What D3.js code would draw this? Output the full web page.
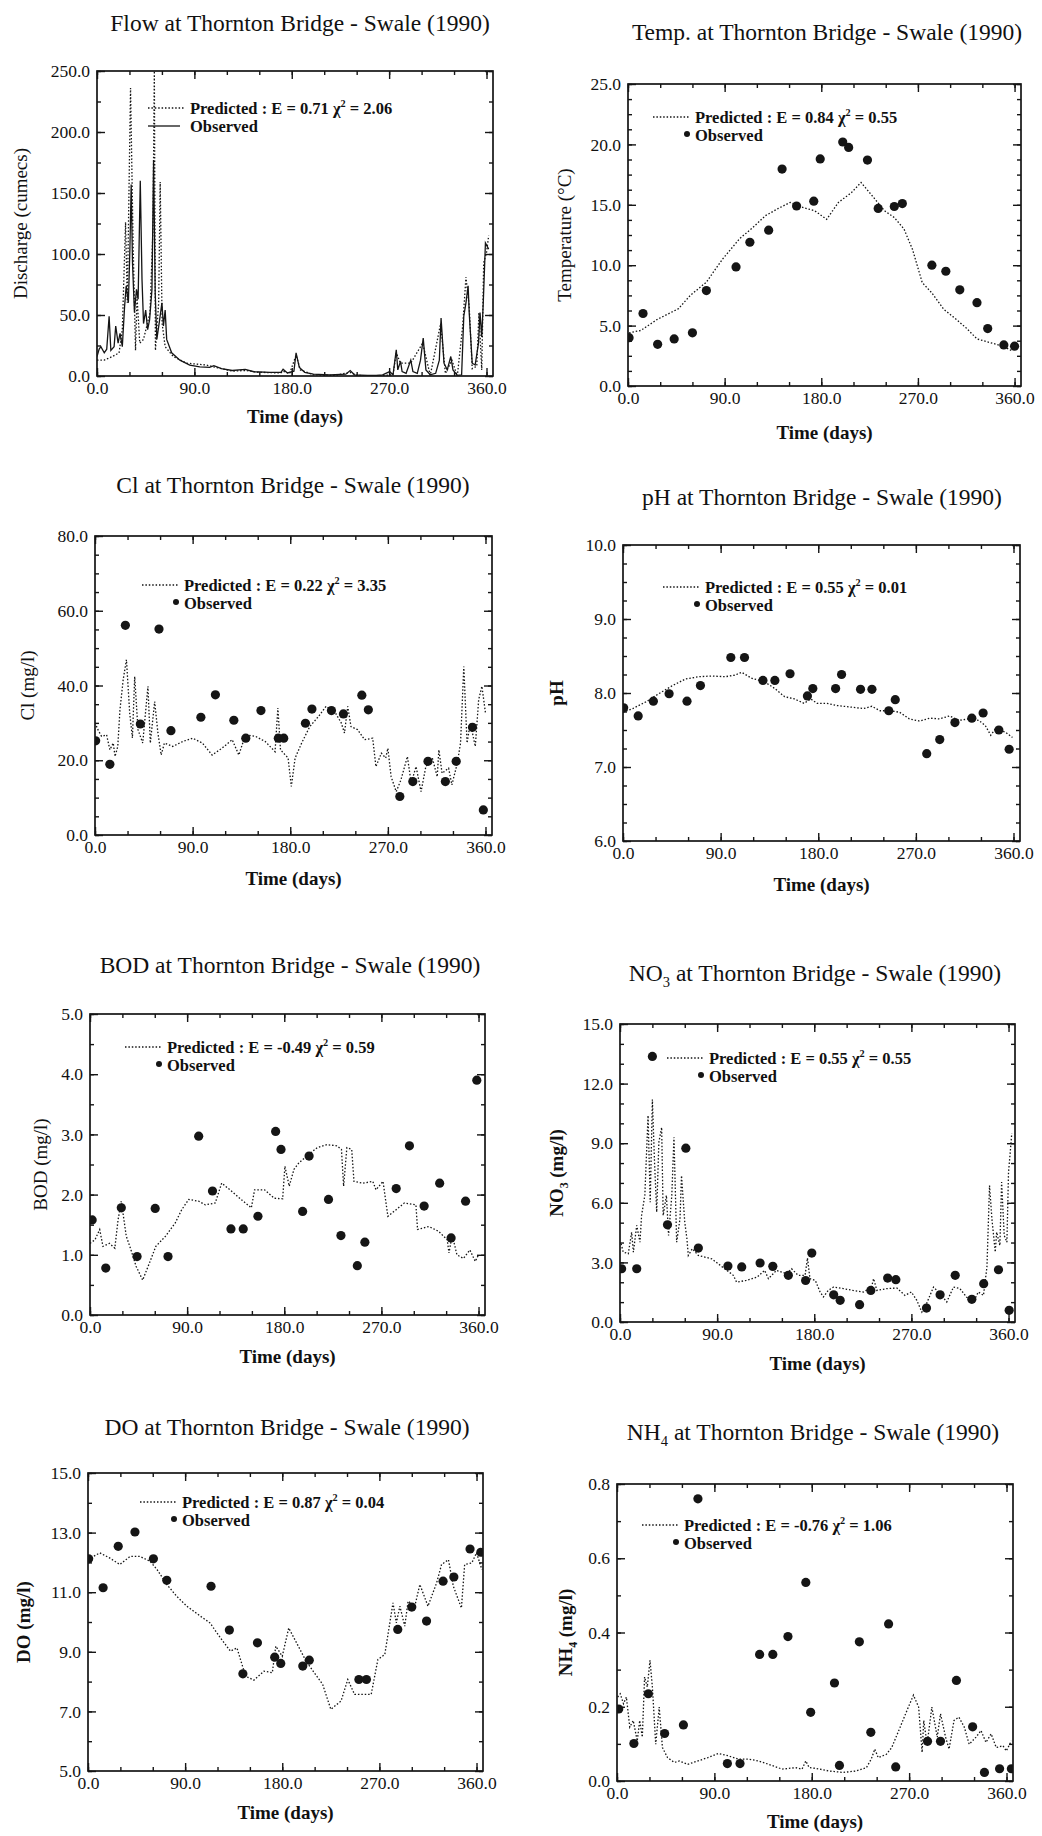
<!DOCTYPE html>
<html><head><meta charset="utf-8">
<script src="https://cdn.jsdelivr.net/npm/d3@7"></script>
<style>
body{margin:0;background:#fff;}
svg text{font-family:"Liberation Serif","Times New Roman",serif;fill:#111;}
</style></head><body>
<svg id="chart" width="1042" height="1836"></svg>
<script>
// ---------------- DATA ----------------
const xTicks = [0, 90, 180, 270, 360];
const xMinorTicks = [0,30,60,90,120,150,180,210,240,270,300,330,360];
const xDomain = [0, 366];

const flowTicks = [0, 50, 100, 150, 200, 250];
const tempTicks = [0, 5, 10, 15, 20, 25];
const clTicks = [0, 20, 40, 60, 80];
const phTicks = [6, 7, 8, 9, 10];
const bodTicks = [0, 1, 2, 3, 4, 5];
const no3Ticks = [0, 3, 6, 9, 12, 15];
const doTicks = [5, 7, 9, 11, 13, 15];
const nh4Ticks = [0, 0.2, 0.4, 0.6, 0.8];

const flowObserved = [[0,16],[2,22],[3.6,24],[6.7,19],[9,22],[11.2,49],[12.8,21],[15.8,24],[17.3,41],[19.5,27],[21.3,35],[23.4,24],[25.5,57],[27,74],[29,60],[30.4,104],[31.6,157],[32.8,93],[34.6,52],[36.5,71],[38,63],[40,160],[41.6,79],[43,43],[45,54],[46.8,38],[48.6,46],[50.8,71],[52.3,177],[53.8,68],[55.3,30],[57.4,43],[60,60],[61.4,41],[63,54],[64.4,30],[69,19],[76.6,13],[85.7,9],[95,7.5],[104,7],[108,8.5],[115,6],[125,4.5],[137,5.5],[145,3.5],[160,3],[170,3],[172,5.5],[176,2.5],[182,4],[184,19],[187,7],[192,3],[200,1.5],[215,1],[230,1.5],[234,4.5],[238,1],[250,0.5],[258,0.5],[264,1],[270.5,3.6],[273.6,1],[276.6,21.5],[278,5],[280.5,12],[282,3.6],[285.7,2.2],[290,13],[292,3.6],[296,2.2],[299,13],[301.5,31],[304,5],[308,1],[313,2.2],[316.4,13],[318,47.6],[320.7,10.5],[323.7,5],[327,16],[329,5],[333,0.5],[337,1],[339,49],[341,60],[343,74],[344,52],[346.8,10.5],[349.5,9],[352.6,27],[354,52],[355.6,32],[357,60],[359,109],[362,104]];
const flowPredicted = [[0,13],[6.7,13],[14.3,16],[20.4,19],[23.4,38],[26.4,126],[28,60],[31,236],[33.4,107],[35.6,21],[37,65],[39.5,27],[43,30],[46,41],[49,52],[51.7,120],[53,250],[54,21],[57,60],[58.4,159],[60.2,43],[63,24],[70.5,16],[82.7,10.5],[101,9],[110,7],[125,4],[137,4.5],[150,3],[170,2.5],[172,4],[178,2],[184,17],[188,5],[200,1],[220,0.5],[234,3],[240,0.5],[258,0],[273.6,1],[276.6,19],[280.5,10.5],[290,10.5],[301,27],[308,0.5],[317.6,43],[322,2],[328,13],[333,0],[338,41],[341,81],[344,57],[346.8,6],[351,8],[353,52],[355.6,5],[357.4,93],[360,101],[362,115]];

const tempObserved = [[1,4.0],[14,6.0],[27.6,3.45],[43,3.9],[60,4.4],[73,7.9],[100.6,9.86],[113.5,11.9],[131,12.9],[143.5,17.96],[157,14.9],[173,15.3],[179,18.8],[200,20.2],[205.5,19.75],[223,18.7],[233,14.7],[248,14.86],[255.5,15.1],[283,10.0],[296,9.5],[309,7.96],[325,6.9],[335,4.75],[350,3.4],[360,3.3]];
const tempPredicted = [[1,4.4],[12,4.6],[27,5.5],[47,6.4],[58,7.5],[73,8.6],[88,10.5],[104,12.2],[116,13.1],[128,14.1],[140,14.7],[151,15.2],[162,14.8],[174,14.5],[185,13.8],[196,15.2],[208,16.0],[217,16.85],[226,15.9],[239,14.5],[248,13.95],[257,13.0],[265,11.3],[274,8.56],[283,7.7],[294,6.35],[306,5.5],[315,4.8],[325,3.9],[337,3.6],[349,3.3],[358,2.9]];

const clObserved = [[0.6,25.2],[13.7,18.9],[28,56.1],[41.8,29.7],[59,55.1],[70,27.9],[97.6,31.5],[111,37.5],[128,30.7],[139,25.9],[153,33.3],[169,25.9],[174,25.9],[194,29.9],[200,33.7],[218,33.3],[229,32.4],[246,37.4],[252,33.5],[281,10.3],[293,14.3],[307,19.7],[323,14.3],[333,19.7],[348,28.8],[358,6.7]];
const clPredicted = [[0,30],[3,28],[6,26.4],[10.7,26.8],[13.7,22.8],[16.8,24.6],[18.5,21],[21,23.7],[23,33.5],[26,41.6],[29,46.9],[32,32.6],[34.5,26],[36.6,42.4],[39.6,28.2],[44,24.6],[48.8,39.8],[51,24.6],[55,35.7],[58,27.3],[61,21.4],[64,24.6],[71.6,23.7],[80.8,25],[90,25.9],[99,24.6],[108,21.4],[117,23.2],[126.5,25.5],[132.6,21.4],[138.7,26.8],[148,26.4],[157,25],[166,22.3],[168.6,34],[171,22.8],[178,20.6],[181,13],[184.5,20.6],[190.5,24.6],[198,29],[206,31.7],[213,34.4],[221,33],[227,30],[230,27.3],[233,34.4],[236,29],[242,28.2],[248.5,25.5],[256,25.9],[259,18.3],[264,21.9],[268,20.6],[270,23.2],[273,15.6],[277.7,11.6],[282,14.7],[288,21],[291.5,13.9],[296,18.3],[300.6,11.6],[305,18.3],[311,20.6],[315.5,15.6],[317,22.8],[320,16.5],[326,17.9],[329,13.4],[334,19.2],[337,24.6],[340,45.1],[343,24.6],[346,30],[350.6,23.7],[353.7,36.2],[356.7,39.8],[360,32.6]];

const phObserved = [[0.6,7.80],[14,7.69],[28,7.89],[42.5,7.99],[59,7.89],[71.4,8.10],[99.4,8.48],[112,8.48],[129,8.17],[140,8.17],[154,8.26],[170,7.96],[175,8.06],[196,8.06],[201.5,8.25],[219,8.05],[229.5,8.05],[245,7.76],[251,7.91],[280,7.18],[292,7.37],[306,7.60],[321.6,7.66],[332,7.73],[346.5,7.50],[356,7.24]];
const phPredicted = [[0,7.74],[9,7.79],[21,7.88],[33,7.99],[45.6,8.10],[57.7,8.19],[70,8.22],[82,8.23],[94,8.22],[103,8.24],[109.4,8.28],[118.5,8.20],[130.7,8.15],[140,8.06],[149,7.95],[158,7.92],[167,7.86],[173,7.92],[179,7.86],[188,7.86],[197.6,7.83],[209.7,7.81],[221.9,7.79],[229.5,7.82],[237,7.76],[246,7.76],[255,7.74],[264,7.65],[273.6,7.62],[282.7,7.66],[291.8,7.65],[301,7.69],[310,7.63],[319,7.65],[328,7.63],[334,7.56],[339,7.43],[343.5,7.52],[352.6,7.47],[359,7.40]];

const bodObserved = [[2,1.58],[14.6,0.78],[29,1.78],[43.6,0.97],[60.4,1.77],[72.3,0.97],[100.7,2.97],[113.5,2.06],[130.6,1.43],[142,1.43],[155.6,1.64],[172,3.05],[177,2.75],[197,1.72],[203,2.64],[221,1.92],[232.5,1.32],[247.7,0.82],[254.7,1.21],[283.7,2.10],[296,2.81],[309.6,1.81],[324,2.19],[334.6,1.28],[348,1.89],[358.4,3.90]];
const bodPredicted = [[0,1.19],[4.6,1.25],[9,1.42],[12,1.14],[18,1.19],[23,1.11],[26,1.58],[29,1.89],[33.6,1.31],[38,1.08],[42.7,0.81],[48.8,0.58],[55,0.86],[61,1.14],[70,1.31],[79,1.53],[85,1.75],[91.5,1.92],[100.7,1.89],[106.8,1.83],[116,1.86],[122,2.19],[131,2.06],[140,1.92],[149.5,1.78],[152.5,2.08],[161.7,2.08],[170.8,1.94],[178.5,1.93],[180.6,2.47],[184.6,2.14],[189,2.42],[193.7,2.53],[201,2.64],[210.5,2.78],[219.6,2.83],[228.8,2.81],[233,2.75],[235,2.14],[238,2.78],[242.5,2.75],[244.6,2.22],[253,2.19],[262,2.22],[265,2.08],[271.5,2.22],[276,1.64],[283.7,1.75],[291.3,1.86],[302,1.83],[303.5,1.42],[314,1.47],[323,1.39],[331,1.25],[332.6,1.03],[335.6,1.33],[340,1.0],[346,0.94],[352,1.08],[357,0.89],[360,1.0]];

const no3Observed = [[1.5,2.68],[15.5,2.68],[30,13.37],[44,4.89],[61,8.75],[72.6,3.72],[100,2.82],[112.8,2.77],[129.8,2.97],[141.6,2.80],[156,2.35],[172,2.09],[177.7,3.47],[198,1.37],[204,1.09],[222,0.87],[232.4,1.59],[248,2.21],[255.6,2.13],[284,0.70],[296.6,1.37],[310.6,2.35],[326,1.14],[337,1.93],[350.7,2.63],[360.6,0.59]];
const no3Predicted = [[1,3.94],[3,3.52],[7.7,3.44],[10.8,4.52],[12.4,3.52],[15.5,4.86],[18.5,4.02],[20,5.36],[23,6.37],[26,10.4],[28,6.03],[30,11.2],[32,8.04],[34,5.53],[36,9.05],[38.6,9.8],[40,5.36],[43,6.37],[45,4.36],[48,6.37],[50,9.3],[52.5,4.02],[55.6,5.2],[57,7.37],[60,5.03],[62,4.19],[63.3,3.35],[67,3.69],[72.6,3.35],[85,3.18],[97,2.68],[105,2.35],[108,2.01],[117,2.09],[127,2.26],[134,2.60],[137.5,2.18],[145,2.60],[154.5,2.43],[159,2.68],[165,2.35],[171.5,2.35],[173.7,3.22],[176,2.18],[181,2.09],[185.4,1.51],[188.5,1.26],[193,1.59],[198,1.76],[207,1.68],[216,1.59],[225.6,1.51],[233,1.76],[235,2.18],[238,1.59],[247,1.68],[256.5,1.71],[264,1.34],[270,1.51],[275,1.09],[279.7,0.50],[284,0.92],[290.5,1.76],[296.6,1.42],[302.8,1.01],[309,1.76],[315,1.68],[321,1.26],[327.5,1.01],[332,1.51],[336.8,1.34],[340,2.77],[342.4,6.87],[344.6,5.2],[347.7,3.52],[349,4.52],[352,3.85],[353.6,7.04],[356,4.36],[358.5,4.02],[360,7.54],[361.6,8.55],[363,9.5]];

const doObserved = [[0.6,12.12],[14,11.15],[28,12.54],[43.5,13.02],[60.6,12.12],[73,11.40],[114,11.20],[131,9.73],[143.5,8.26],[157,9.30],[173,8.82],[178.6,8.61],[199,8.52],[205,8.72],[251,8.07],[258,8.07],[287,9.75],[300,10.50],[313.7,10.03],[329,11.37],[339,11.51],[354,12.45],[364,12.34]];
const doPredicted = [[0,12.1],[11,12.32],[20,12.15],[29.5,11.93],[39,12.2],[48,12.2],[57.5,12.04],[64,11.76],[73,11.26],[82,10.87],[91.6,10.53],[104,10.2],[113,9.97],[122.7,9.47],[132,9.02],[138,9.13],[146,8.18],[153.7,8.05],[163,8.35],[170.8,8.30],[174,9.19],[180,8.85],[186,9.80],[194,9.25],[202,8.69],[209.6,8.30],[217.4,7.91],[225,7.07],[234.5,7.35],[240.7,8.07],[247,7.57],[256,7.57],[262.4,7.57],[268.6,8.74],[275,8.91],[282.6,10.64],[285.7,9.97],[289,10.53],[293.5,9.86],[296.6,10.70],[302.8,10.53],[307.5,11.26],[315,10.53],[323,11.31],[327.6,11.93],[334,12.09],[338.5,11.2],[346,10.47],[349,11.93],[355.6,11.98],[360,12.32],[365,11.76]];

const nh4Observed = [[1.6,0.194],[15.6,0.101],[29,0.235],[44,0.128],[61.4,0.151],[74.8,0.760],[102,0.047],[113.7,0.047],[131.8,0.341],[144,0.341],[158,0.389],[174.5,0.535],[179,0.185],[201,0.264],[205.6,0.042],[224,0.375],[234.6,0.131],[251,0.423],[257.6,0.038],[287,0.107],[299,0.107],[313.7,0.271],[328.7,0.146],[339.6,0.023],[353.6,0.033],[364.5,0.033]];
const nh4Predicted = [[0.6,0.226],[3,0.235],[6,0.208],[8.7,0.226],[11.8,0.145],[15,0.163],[18.7,0.108],[21,0.163],[23.4,0.118],[25.5,0.280],[28,0.253],[30.5,0.325],[32.7,0.253],[35.8,0.099],[39,0.199],[42,0.090],[46.7,0.063],[53,0.050],[57.6,0.054],[65.4,0.045],[74.8,0.054],[84,0.063],[93.5,0.074],[102.8,0.068],[112,0.059],[121.5,0.059],[130.8,0.054],[140,0.045],[152.6,0.032],[165,0.036],[171,0.032],[174.5,0.054],[177.6,0.036],[183.8,0.034],[196,0.027],[208.7,0.023],[221,0.027],[230.5,0.036],[235,0.059],[238.3,0.086],[241.4,0.063],[249,0.072],[253.9,0.090],[261.7,0.145],[268,0.190],[274,0.231],[278.8,0.199],[282,0.077],[283.5,0.163],[286.6,0.099],[291,0.199],[296,0.118],[299,0.181],[303.7,0.118],[306.9,0.086],[311.5,0.163],[316,0.172],[321,0.145],[325.5,0.099],[331.8,0.118],[336.4,0.136],[341,0.104],[345.8,0.127],[350.5,0.090],[356.7,0.095],[359.8,0.081],[364.5,0.108]];

// ---------------- LAYOUT ----------------
const panels = [
  {title:[["Flow at Thornton Bridge - Swale (1990)",""]], tx:300, ty:23,
   ylabel:[["Discharge (cumecs)",""]], ylDx:-76, ylW:"normal",
   f:[97,71,493,376], yTicks:flowTicks, yMinor:25, obs:flowObserved, pred:flowPredicted, obsLine:true,
   stat:["0.71","2.06"], lx:51, ly:37, timeDy:41},
  {title:[["Temp. at Thornton Bridge - Swale (1990)",""]], tx:827, ty:32,
   ylabel:[["Temperature (°C)",""]], ylDx:-63, ylW:"normal",
   f:[628,84,1021,386], yTicks:tempTicks, yMinor:1.25, obs:tempObserved, pred:tempPredicted,
   stat:["0.84","0.55"], lx:25, ly:33, timeDy:47},
  {title:[["Cl at Thornton Bridge - Swale (1990)",""]], tx:293, ty:485,
   ylabel:[["Cl (mg/l)",""]], ylDx:-67, ylW:"normal",
   f:[95,536,492,835], yTicks:clTicks, yMinor:5, obs:clObserved, pred:clPredicted,
   stat:["0.22","3.35"], lx:47, ly:49, timeDy:44},
  {title:[["pH at Thornton Bridge - Swale (1990)",""]], tx:822, ty:497,
   ylabel:[["pH",""]], ylDx:-66, ylW:"bold",
   f:[623,545,1020,841], yTicks:phTicks, yMinor:0.25, obs:phObserved, pred:phPredicted,
   stat:["0.55","0.01"], lx:40, ly:42, timeDy:44},
  {title:[["BOD at Thornton Bridge - Swale (1990)",""]], tx:290, ty:965,
   ylabel:[["BOD (mg/l)",""]], ylDx:-49, ylW:"normal",
   f:[90,1014,485,1315], yTicks:bodTicks, yMinor:0.5, obs:bodObserved, pred:bodPredicted,
   stat:["-0.49","0.59"], lx:35, ly:33, timeDy:42},
  {title:[["NO",""],["3","sub"],[" at Thornton Bridge - Swale (1990)",""]], tx:815, ty:973,
   ylabel:[["NO",""],["3","sub"],[" (mg/l)",""]], ylDx:-63, ylW:"bold",
   f:[620,1024,1015,1322], yTicks:no3Ticks, yMinor:1, obs:no3Observed, pred:no3Predicted,
   stat:["0.55","0.55"], lx:47, ly:34, timeDy:42},
  {title:[["DO at Thornton Bridge - Swale (1990)",""]], tx:287, ty:1427,
   ylabel:[["DO (mg/l)",""]], ylDx:-64, ylW:"bold",
   f:[88,1473,483,1771], yTicks:doTicks, yMinor:1, obs:doObserved, pred:doPredicted,
   stat:["0.87","0.04"], lx:52, ly:29, timeDy:42},
  {title:[["NH",""],["4","sub"],[" at Thornton Bridge - Swale (1990)",""]], tx:813, ty:1432,
   ylabel:[["NH",""],["4","sub"],[" (mg/l)",""]], ylDx:-51, ylW:"bold",
   f:[617,1484,1013,1781], yTicks:nh4Ticks, yMinor:0.1, obs:nh4Observed, pred:nh4Predicted,
   stat:["-0.76","1.06"], lx:25, ly:41, timeDy:41}
];

const svg = d3.select("#chart");
const INK = "#151515";
const DOTS = "1.5,1.9";
const TITLE_SIZE = 23.5, TICK_SIZE = 17.5, LABEL_SIZE = 19, LEGEND_SIZE = 16.5;

function rich(sel, parts, size) {
  let shift = 0;
  parts.forEach(([t, mode]) => {
    const ts = sel.append("tspan").text(t);
    if (mode === "sub") { ts.attr("dy", size * 0.28).attr("font-size", size * 0.62); shift = size * 0.28; }
    else if (mode === "sup") { ts.attr("dy", -size * 0.4).attr("font-size", size * 0.62); shift = -size * 0.4; }
    else { ts.attr("dy", -shift); shift = 0; }
  });
}

function drawPanel(p) {
  const [x0, y0, x1, y1] = p.f;
  const g = svg.append("g");
  const yMin = p.yTicks[0], yMax = p.yTicks[p.yTicks.length - 1];
  const x = d3.scaleLinear().domain(xDomain).range([x0, x1]);
  const y = d3.scaleLinear().domain([yMin, yMax]).range([y1, y0]);
  const yMinorVals = d3.range(yMin, yMax + 1e-9, p.yMinor);
  const fmt = d3.format(".1f");

  // Title
  const tt = g.append("text").attr("x", p.tx).attr("y", p.ty + 7.5)
    .attr("text-anchor", "middle").attr("font-size", TITLE_SIZE);
  rich(tt, p.title, TITLE_SIZE);

  // Clip
  const cid = "clip" + Math.round(x0) + "_" + Math.round(y0);
  svg.append("clipPath").attr("id", cid).append("rect")
    .attr("x", x0).attr("y", y0 - 1).attr("width", x1 - x0).attr("height", y1 - y0 + 1);

  // Axes (ticks inward)
  const styleAxis = s => {
    s.select(".domain").remove();
    s.selectAll(".tick line").attr("stroke", INK).attr("stroke-width", 1.4);
    s.selectAll(".tick text").attr("fill", INK)
      .style("font-family", '"Liberation Serif","Times New Roman",serif').attr("font-size", TICK_SIZE);
  };
  g.append("g").attr("transform", `translate(0,${y1})`)
    .call(d3.axisBottom(x).tickValues(xMinorTicks).tickSize(-4).tickFormat("")).call(styleAxis);
  g.append("g").attr("transform", `translate(0,${y0})`)
    .call(d3.axisTop(x).tickValues(xMinorTicks).tickSize(-4).tickFormat("")).call(styleAxis);
  g.append("g").attr("transform", `translate(0,${y1})`)
    .call(d3.axisBottom(x).tickValues(xTicks).tickSizeInner(-8).tickSizeOuter(0).tickPadding(6).tickFormat(fmt))
    .call(styleAxis);
  g.append("g").attr("transform", `translate(0,${y0})`)
    .call(d3.axisTop(x).tickValues(xTicks).tickSizeInner(-8).tickSizeOuter(0).tickFormat("")).call(styleAxis);

  g.append("g").attr("transform", `translate(${x0},0)`)
    .call(d3.axisLeft(y).tickValues(yMinorVals).tickSize(-4).tickFormat("")).call(styleAxis);
  g.append("g").attr("transform", `translate(${x1},0)`)
    .call(d3.axisRight(y).tickValues(yMinorVals).tickSize(-4).tickFormat("")).call(styleAxis);
  g.append("g").attr("transform", `translate(${x0},0)`)
    .call(d3.axisLeft(y).tickValues(p.yTicks).tickSizeInner(-8).tickSizeOuter(0).tickPadding(7).tickFormat(fmt))
    .call(styleAxis);
  g.append("g").attr("transform", `translate(${x1},0)`)
    .call(d3.axisRight(y).tickValues(p.yTicks).tickSizeInner(-8).tickSizeOuter(0).tickFormat("")).call(styleAxis);

  // Frame
  g.append("rect").attr("x", x0).attr("y", y0).attr("width", x1 - x0).attr("height", y1 - y0)
    .attr("fill", "none").attr("stroke", INK).attr("stroke-width", 1.7);

  // Axis labels
  g.append("text").attr("x", (x0 + x1) / 2).attr("y", y1 + p.timeDy + 6)
    .attr("text-anchor", "middle").attr("font-size", LABEL_SIZE).attr("font-weight", "bold").text("Time (days)");
  const yl = g.append("text")
    .attr("transform", `translate(${x0 + p.ylDx + 6},${(y0 + y1) / 2}) rotate(-90)`)
    .attr("text-anchor", "middle").attr("font-size", LABEL_SIZE).attr("font-weight", p.ylW);
  rich(yl, p.ylabel, LABEL_SIZE);

  // Series
  const line = d3.line().x(d => x(d[0])).y(d => y(d[1]));
  const plot = g.append("g").attr("clip-path", `url(#${cid})`);
  plot.append("path").datum(p.pred).attr("d", line).attr("fill", "none")
    .attr("stroke", INK).attr("stroke-width", 1.3).attr("stroke-dasharray", DOTS);
  if (p.obsLine) {
    plot.append("path").datum(p.obs).attr("d", line).attr("fill", "none")
      .attr("stroke", INK).attr("stroke-width", 1.3);
  } else {
    plot.selectAll("circle.obs").data(p.obs).join("circle").attr("class", "obs")
      .attr("cx", d => x(d[0])).attr("cy", d => y(d[1])).attr("r", 4.6).attr("fill", INK);
  }

  // Legend
  const lx = x0 + p.lx, ly = y0 + p.ly;
  g.append("line").attr("x1", lx).attr("x2", lx + 36).attr("y1", ly).attr("y2", ly)
    .attr("stroke", INK).attr("stroke-width", 1.3).attr("stroke-dasharray", DOTS);
  const lt = g.append("text").attr("x", lx + 42).attr("y", ly + 5.5)
    .attr("font-size", LEGEND_SIZE).attr("font-weight", "bold");
  rich(lt, [["Predicted : E = " + p.stat[0] + " χ", ""], ["2", "sup"], [" = " + p.stat[1], ""]], LEGEND_SIZE);
  const ly2 = ly + 18;
  if (p.obsLine) {
    g.append("line").attr("x1", lx).attr("x2", lx + 32).attr("y1", ly2).attr("y2", ly2)
      .attr("stroke", INK).attr("stroke-width", 1.3);
  } else {
    g.append("circle").attr("cx", lx + 34).attr("cy", ly2 - 1).attr("r", 3).attr("fill", INK);
  }
  g.append("text").attr("x", lx + 42).attr("y", ly2 + 5.5)
    .attr("font-size", LEGEND_SIZE).attr("font-weight", "bold").text("Observed");
}

panels.forEach(drawPanel);
</script>
</body></html>
